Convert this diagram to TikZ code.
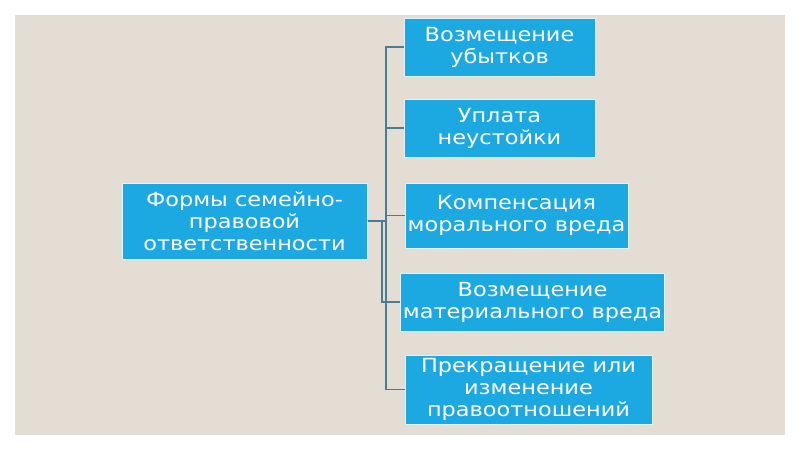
\documentclass[tikz,border=0pt]{standalone}
\usepackage{fontspec}
\setmainfont{DejaVu Sans}[FakeStretch=1.15]
\usetikzlibrary{positioning}
\definecolor{bgbeige}{RGB}{227,221,211}
\definecolor{boxblue}{RGB}{28,169,225}
\definecolor{linkteal}{RGB}{74,125,146}
\tikzset{
  pagebg/.style={fill=white},
  slide/.style={fill=bgbeige},
  formbox/.style={rectangle,fill=boxblue,draw=white!85!boxblue,line width=1pt,
    text=white,align=center,inner sep=2pt,
    font=\fontsize{19.5}{22}\selectfont},
  link/.style={draw=linkteal,line width=1.3pt},
}
\begin{document}
\begin{tikzpicture}[x=1pt,y=-1pt]
  \useasboundingbox[pagebg] (0,0) rectangle (800,450);
  \fill[slide] (15,15) rectangle (785,435);
  % root
  \node[formbox,minimum width=245pt,minimum height=76pt] (root) at (244.5,221)
    {Формы семейно-\\правовой\\ответственности};
  % children
  \node[formbox,minimum width=191pt,minimum height=58pt] (loss) at (499.5,47)
    {Возмещение\\убытков};
  \node[formbox,minimum width=191pt,minimum height=58pt] (penalty) at (499.5,128)
    {Уплата\\неустойки};
  \node[formbox,minimum width=223pt,minimum height=65pt] (moral) at (516.5,215.5)
    {Компенсация\\морального вреда};
  \node[formbox,minimum width=263pt,minimum height=58pt] (material) at (532.5,302)
    {Возмещение\\материального вреда};
  \node[formbox,minimum width=247pt,minimum height=69pt] (change) at (528.5,389.5)
    {Прекращение или\\изменение\\правоотношений};
  % joints
  \coordinate (jmain) at (386,221);
  \coordinate (jside) at (382,221);
  % connectors
  \foreach \kid in {loss,penalty,moral,change}
    \draw[link] (root.east) -- (jmain) |- (\kid.west);
  \draw[link] (root.east) -- (jside) |- (material.west);
\end{tikzpicture}
\end{document}
